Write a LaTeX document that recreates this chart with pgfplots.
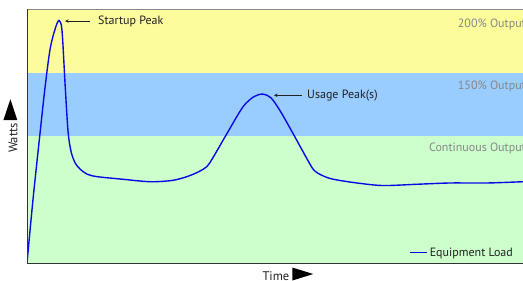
\documentclass[border=0pt]{standalone}
\usepackage{fontspec}
\setmainfont{PT Sans}
\usepackage{pgfplots}
\pgfplotsset{compat=1.18}
\definecolor{bandY}{HTML}{FCFC9C}
\definecolor{bandB}{HTML}{99CCFF}
\definecolor{bandG}{HTML}{CCFFCC}
\definecolor{curve}{HTML}{0A0AE6}
\definecolor{lbl}{HTML}{888888}
\definecolor{txt}{HTML}{222222}
\begin{document}
\begin{tikzpicture}
\begin{axis}[
  name=ax,
  scale only axis,
  width=496bp, height=254bp,
  xmin=0, xmax=496, ymin=0, ymax=200,
  axis line style={draw=none},
  ticks=none,
  font=\fontsize{12bp}{14bp}\selectfont,
  xlabel={Time\hspace{3bp}\tikz\fill[black] (0,0) -- (21bp,6.5bp) -- (0,13bp) -- cycle;},
  ylabel={Watts\hspace{3bp}\tikz\fill[black] (0,0) -- (21bp,7bp) -- (0,14bp) -- cycle;},
  xlabel style={at={(axis description cs:0.526,0)}, anchor=north, yshift=-1bp, text=txt, font=\fontsize{12.5bp}{14bp}\selectfont},
  ylabel style={at={(axis description cs:-0.012,0.539)}, rotate=0, anchor=south, text=txt, font=\fontsize{12.5bp}{14bp}\selectfont},
  legend style={draw=none, fill=none, at={(rel axis cs:0.99,0.005)}, anchor=south east, font=\fontsize{12bp}{14bp}\selectfont, text=txt},
  legend cell align=left,
]
\fill[bandY] (axis cs:0,150) rectangle (axis cs:496,200);
\fill[bandB] (axis cs:0,100) rectangle (axis cs:496,150);
\fill[bandG] (axis cs:0,0) rectangle (axis cs:496,100);
\node[anchor=east, text=lbl, inner sep=0pt] at (axis cs:499,188) {200\% Output};
\node[anchor=east, text=lbl, inner sep=0pt] at (axis cs:499,139) {150\% Output};
\node[anchor=east, text=lbl, inner sep=0pt] at (axis cs:499,90.5) {Continuous Output};
\addplot[curve, line width=1.4pt, smooth, tension=0.5] coordinates {
(0,0) (6,50) (13,102) (18,138) (23,168) (28,184) (32,191) (35,183) (38,142) (41,104)
(44,88) (48,79) (53,74) (60,70) (70,68) (95,66) (123,64) (145,65) (160,68) (172,72) (180,76)
(186,83) (200,102) (216,123) (227,131) (236,133) (244,130) (253,120) (266,102) (280,82)
(287,73) (295,69) (306,66) (330,63) (356,61) (390,62) (423,63) (460,63) (496,64)
};
\addlegendentry{Equipment Load}
\draw[-stealth, txt, line width=0.6pt] (axis cs:63,190.5) -- (axis cs:38,190.5);
\node[anchor=west, text=txt, inner sep=0pt] at (axis cs:71,190.5) {Startup Peak};
\draw[-stealth, txt, line width=0.6pt] (axis cs:275,132) -- (axis cs:247,132);
\node[anchor=west, text=txt, inner sep=0pt] at (axis cs:280,132) {Usage Peak(s)};
\draw[lbl, line width=1pt] (rel axis cs:0,1) -- (rel axis cs:1,1);
\draw[black!80, line width=1pt] (rel axis cs:0,1) -- (rel axis cs:0,0) -- (rel axis cs:1,0);
\end{axis}
\pgfresetboundingbox
\path[use as bounding box] ([xshift=-27bp,yshift=-18bp]ax.south west) rectangle ([yshift=9bp]ax.north east);
\end{tikzpicture}
\end{document}
